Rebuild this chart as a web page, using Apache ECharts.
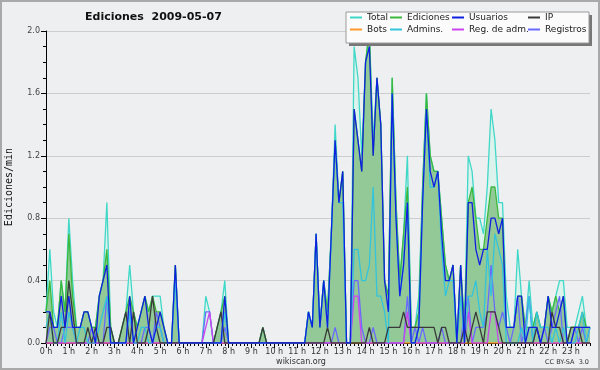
<!DOCTYPE html>
<html><head><meta charset="utf-8">
<script src="https://cdn.jsdelivr.net/npm/echarts@6/dist/echarts.min.js"></script>
<style>html,body{margin:0;padding:0;background:#eeeff0}#c{width:600px;height:370px}</style>
</head><body><div id="c"></div>
<script>
// hour tick labels (6 samples of 10 min per hour)
const hourLabels = ['0 h','1 h','2 h','3 h','4 h','5 h','6 h','7 h','8 h','9 h','10 h','11 h',
  '12 h','13 h','14 h','15 h','16 h','17 h','18 h','19 h','20 h','21 h','22 h','23 h'];

const total = [
  0.2,0.6,0.2,0.1,0.4,0.2, 0.8,0.4,0.1,0.1,0.2,0.2, 0.1,0.1,0.3,0.4,0.9,0.1, 0,0,0.1,0.2,0.5,0.2,
  0.1,0.2,0.3,0.2,0.3,0.3, 0.3,0.1,0,0,0.5,0, 0,0,0,0,0,0, 0.3,0.2,0,0.1,0.2,0.4,
  0,0,0,0,0,0, 0,0,0,0.1,0,0, 0,0,0,0,0,0, 0,0,0,0.2,0.1,0.7,
  0.1,0.4,0.2,0.7,1.4,0.9, 1.1,0,0,1.9,1.7,1.2, 1.8,2.0,1.3,1.7,1.4,0.4, 0.3,1.7,0.9,0.4,0.7,1.2,
  0.1,0.1,0.3,1.0,1.6,1.2, 1.1,1.1,0.8,0.5,0.4,0.5, 0,0.5,0.1,1.2,1.1,0.8, 0.8,0.7,1.0,1.5,1.3,0.9,
  0.9,0.3,0.1,0.1,0.6,0.3, 0.1,0.4,0.1,0.2,0.1,0.1, 0.3,0.2,0.3,0.4,0.4,0.1, 0.1,0.1,0.2,0.3,0.1,0.1];
const ediciones = [
  0.2,0.4,0.1,0.1,0.4,0.2, 0.7,0.3,0.1,0.1,0.2,0.2, 0.1,0.1,0.3,0.4,0.6,0.1, 0,0,0.1,0.2,0.3,0.2,
  0.1,0.2,0.3,0.2,0.3,0.2, 0.2,0.1,0,0,0.5,0, 0,0,0,0,0,0, 0,0,0,0.1,0.2,0.3,
  0,0,0,0,0,0, 0,0,0,0.1,0,0, 0,0,0,0,0,0, 0,0,0,0.2,0.1,0.7,
  0.1,0.4,0.2,0.7,1.3,0.9, 1.1,0,0,1.5,1.3,1.1, 1.8,2.0,1.2,1.7,1.4,0.4, 0.3,1.7,0.9,0.4,0.7,1.0,
  0.1,0.1,0.2,1.0,1.6,1.2, 1.1,1.1,0.8,0.5,0.4,0.5, 0,0.5,0.1,0.9,1.0,0.8, 0.6,0.6,0.8,1.0,1.0,0.8,
  0.8,0.1,0.1,0.1,0.3,0.3, 0.1,0.1,0.1,0.2,0.1,0.1, 0.3,0.2,0.3,0.2,0.3,0, 0.1,0.1,0.1,0.2,0.1,0.1];
const usuarios = [
  0.2,0.2,0.1,0.1,0.3,0.1, 0.3,0.1,0.1,0.1,0.2,0.2, 0.1,0,0.3,0.4,0.5,0, 0,0,0,0,0.3,0,
  0.1,0.2,0.3,0.1,0,0.1, 0.2,0.1,0,0,0.5,0, 0,0,0,0,0,0, 0,0,0,0,0,0.3,
  0,0,0,0,0,0, 0,0,0,0,0,0, 0,0,0,0,0,0, 0,0,0,0.2,0.1,0.7,
  0.1,0.4,0.1,0.7,1.3,0.9, 1.1,0,0,1.5,1.3,1.1, 1.8,1.9,1.2,1.7,1.4,0.4, 0.2,1.6,0.8,0.3,0.5,0.9,
  0,0,0.1,0.9,1.5,1.1, 1.0,1.1,0.7,0.4,0.4,0.5, 0,0.5,0,0.9,0.9,0.6, 0.5,0.6,0.6,0.8,0.8,0.7,
  0.8,0.1,0.1,0.1,0.3,0.3, 0,0.1,0.1,0.1,0,0.1, 0.3,0.1,0.1,0.2,0.3,0, 0,0.1,0.1,0.1,0.1,0.1];
const ip = [
  0,0.2,0,0,0.1,0.1, 0.4,0.2,0,0,0,0.1, 0,0.1,0,0,0.1,0.1, 0,0,0.1,0.2,0,0.2,
  0,0,0,0.1,0.3,0.1, 0,0,0,0,0,0, 0,0,0,0,0,0, 0,0,0,0.1,0.2,0,
  0,0,0,0,0,0, 0,0,0,0.1,0,0, 0,0,0,0,0,0, 0,0,0,0,0,0,
  0,0,0.1,0,0,0, 0,0,0,0,0,0, 0,0.1,0,0,0,0, 0.1,0.1,0.1,0.1,0.2,0.1,
  0.1,0.1,0.1,0.1,0.1,0.1, 0.1,0,0.1,0.1,0,0, 0,0,0.1,0,0.1,0.2, 0.1,0,0.2,0.2,0.2,0.1,
  0,0,0,0,0,0, 0,0,0,0.1,0,0, 0,0.2,0.1,0.1,0,0, 0.1,0.1,0.1,0,0,0];
const bots = [
  0,0,0,0,0,0, 0,0,0,0,0,0, 0,0,0,0,0,0, 0,0,0,0,0,0,
  0,0,0,0,0,0, 0,0,0,0,0,0, 0,0,0,0,0,0, 0,0,0,0,0,0,
  0,0,0,0,0,0, 0,0,0,0,0,0, 0,0,0,0,0,0, 0,0,0,0,0,0,
  0,0,0,0,0,0, 0,0,0,0,0,0, 0,0,0,0,0,0, 0,0,0,0,0,0,
  0,0,0,0,0,0, 0,0,0,0,0,0, 0,0,0,0,0,0, 0,0,0,0,0,0,
  0,0,0,0,0,0, 0,0,0,0,0,0, 0,0,0,0,0,0, 0,0,0,0,0,0];
const admins = [
  0.1,0.2,0,0,0.2,0, 0.2,0.1,0,0.1,0.1,0, 0,0,0.1,0.2,0.3,0, 0,0,0,0,0.2,0,
  0,0.1,0.1,0,0,0.1, 0.1,0,0,0,0.4,0, 0,0,0,0,0,0, 0,0,0,0,0,0.2,
  0,0,0,0,0,0, 0,0,0,0,0,0, 0,0,0,0,0,0, 0,0,0,0.2,0.1,0.7,
  0.1,0.4,0.1,0.7,1.3,0.9, 0.9,0,0,0.6,0.6,0.4, 0.4,0.5,1.0,0.3,0.3,0.2, 0,1.6,0.8,0.3,0.5,0.9,
  0,0,0.1,0.9,1.5,1.0, 1.0,1.1,0.6,0.3,0.4,0.4, 0,0.3,0,0.3,0.3,0.4, 0.2,0.1,0.6,0.3,0.7,0.6,
  0.5,0,0,0,0,0.1, 0,0.3,0,0.2,0.1,0.1, 0.1,0,0.1,0,0.1,0, 0,0,0.1,0.2,0,0.1];
const regAdm = [
  0,0,0,0,0,0, 0,0,0,0,0,0, 0,0,0,0,0,0, 0,0,0,0,0,0,
  0,0,0,0,0,0, 0,0,0,0,0,0, 0,0,0,0,0,0, 0.1,0.2,0,0,0,0,
  0,0,0,0,0,0, 0,0,0,0,0,0, 0,0,0,0,0,0, 0,0,0,0,0,0,
  0,0,0,0,0,0, 0,0,0,0.3,0.3,0, 0,0,0,0,0,0, 0,0,0,0,0,0.2,
  0,0,0,0,0,0, 0,0,0,0,0,0, 0,0,0,0.2,0,0, 0,0,0,0.2,0.2,0,
  0,0,0,0,0,0, 0,0,0,0,0,0, 0,0,0,0,0,0, 0,0,0,0,0,0];
const registros = [
  0,0.1,0.1,0,0,0.1, 0.1,0.1,0,0,0,0, 0.1,0,0,0,0.3,0, 0,0,0,0,0.2,0,
  0,0,0.1,0.1,0,0.2, 0.1,0,0,0,0,0, 0,0,0,0,0,0, 0.2,0.2,0,0,0,0.1,
  0,0,0,0,0,0, 0,0,0,0,0,0, 0,0,0,0,0,0, 0,0,0,0,0,0,
  0,0,0,0,0.1,0, 0,0,0,0.4,0.4,0.1, 0,0,0.1,0,0,0, 0,0,0,0,0,0.3,
  0,0.1,0,0.1,0,0, 0,0,0.1,0,0,0, 0,0,0.2,0.3,0,0.1, 0.1,0.1,0.2,0.5,0.2,0.1,
  0.2,0.1,0,0.1,0.3,0, 0.1,0.3,0,0.1,0,0.1, 0,0.1,0.2,0.3,0,0, 0,0.1,0,0.1,0,0.1];

const categories = [];
hourLabels.forEach(function (h) { for (let m = 0; m < 6; m++) categories.push(h + ':' + m + '0'); });

const FONT = 'DejaVu Sans';
function mk(name, data, color, z, area) {
  const s = { name: name, type: 'line', data: data, symbol: 'none', showSymbol: false,
    lineStyle: { color: color, width: 1.3 }, itemStyle: { color: color }, z: z,
    emphasis: { disabled: true }, silent: true };
  if (area) s.areaStyle = { color: area, opacity: 1 };
  return s;
}
function leg(items, left) {
  return { data: items, left: left, top: 12, padding: 0, orient: 'vertical', icon: 'rect', itemWidth: 12, itemHeight: 2,
    itemGap: 1, selectedMode: false, z: 6,
    textStyle: { fontSize: 9, fontFamily: FONT, color: '#222', lineHeight: 11 } };
}

const chart = echarts.init(document.getElementById('c'), null, { renderer: 'canvas' });
chart.setOption({
  animation: false,
  backgroundColor: '#eeeff0',
  title: { text: 'Ediciones  2009-05-07', left: 85, top: 12, padding: 0,
    textStyle: { fontSize: 11, fontWeight: 'bold', fontFamily: FONT, color: '#111' } },
  legend: [
    leg(['Total', 'Bots'], 350),
    leg(['Ediciones', 'Admins.'], 390),
    leg(['Usuarios', 'Reg. de adm.'], 452),
    leg(['IP', 'Registros'], 528)
  ],
  grid: { left: 46, right: 10, top: 31, bottom: 27, containLabel: false, outerBoundsMode: 'none' },
  xAxis: [{
    type: 'category', data: categories, boundaryGap: false,
    axisLine: { lineStyle: { color: '#000', width: 1 } },
    axisTick: { interval: 0, length: 3, lineStyle: { color: '#000' } },
    axisLabel: { interval: 5, fontSize: 8, fontFamily: FONT, color: '#333', margin: 5,
      formatter: function (v, i) { return i % 6 === 0 ? hourLabels[i / 6] : ''; } },
    splitLine: { show: false }
  }, {
    type: 'category', data: categories, boundaryGap: false, position: 'bottom', gridIndex: 0,
    axisLine: { show: false },
    axisTick: { interval: 5, length: 5, lineStyle: { color: '#000' } },
    axisLabel: { show: false }, splitLine: { show: false }
  }],
  yAxis: {
    type: 'value', min: 0, max: 2, interval: 0.4,
    name: 'Ediciones/min', nameLocation: 'middle', nameGap: 32,
    nameTextStyle: { fontSize: 10, fontFamily: 'DejaVu Sans Mono', color: '#111' },
    axisLine: { show: true, lineStyle: { color: '#000', width: 1 } },
    axisTick: { show: true, length: 5, lineStyle: { color: '#000' } },
    minorTick: { show: true, splitNumber: 4, length: 3, lineStyle: { color: '#000' } },
    splitLine: { show: true, lineStyle: { color: '#cdcdcd', width: 1 } },
    axisLabel: { fontSize: 8, fontFamily: FONT, color: '#444', margin: 6,
      formatter: function (v) { return v.toFixed(1); } }
  },
  series: [
    mk('Total', total, '#3fd8c8', 2, '#dcf2ec'),
    mk('Ediciones', ediciones, '#3cb83c', 2, '#93c997'),
    mk('Bots', bots, '#ff9a2a', 2),
    mk('Registros', registros, '#6a6aff', 2),
    mk('Reg. de adm.', regAdm, '#cc44ee', 2),
    mk('Admins.', admins, '#33c4dc', 2),
    mk('IP', ip, '#3a3a3a', 2),
    mk('Usuarios', usuarios, '#1020e0', 2)
  ],
  graphic: [
    { type: 'rect', z: 3, silent: true, shape: { x: 349, y: 15, width: 243, height: 31 }, style: { fill: '#777' } },
    { type: 'rect', z: 3, silent: true, shape: { x: 346, y: 12, width: 243, height: 31 }, style: { fill: '#fbfbfb', stroke: '#9a9a9a', lineWidth: 1 } },
    { type: 'text', z: 3, silent: true, x: 301, y: 362, style: { text: 'wikiscan.org', fontSize: 8, fontFamily: FONT, fill: '#333', align: 'center', verticalAlign: 'middle' } },
    { type: 'text', z: 3, silent: true, x: 589, y: 362, style: { text: 'CC BY-SA  3.0', fontSize: 6.5, fontFamily: FONT, fill: '#333', align: 'right', verticalAlign: 'middle' } },
    { type: 'rect', z: 3, silent: true, shape: { x: 1, y: 1, width: 598, height: 368 }, style: { fill: null, stroke: '#a9a9a9', lineWidth: 2 } }
  ]
});
</script></body></html>
